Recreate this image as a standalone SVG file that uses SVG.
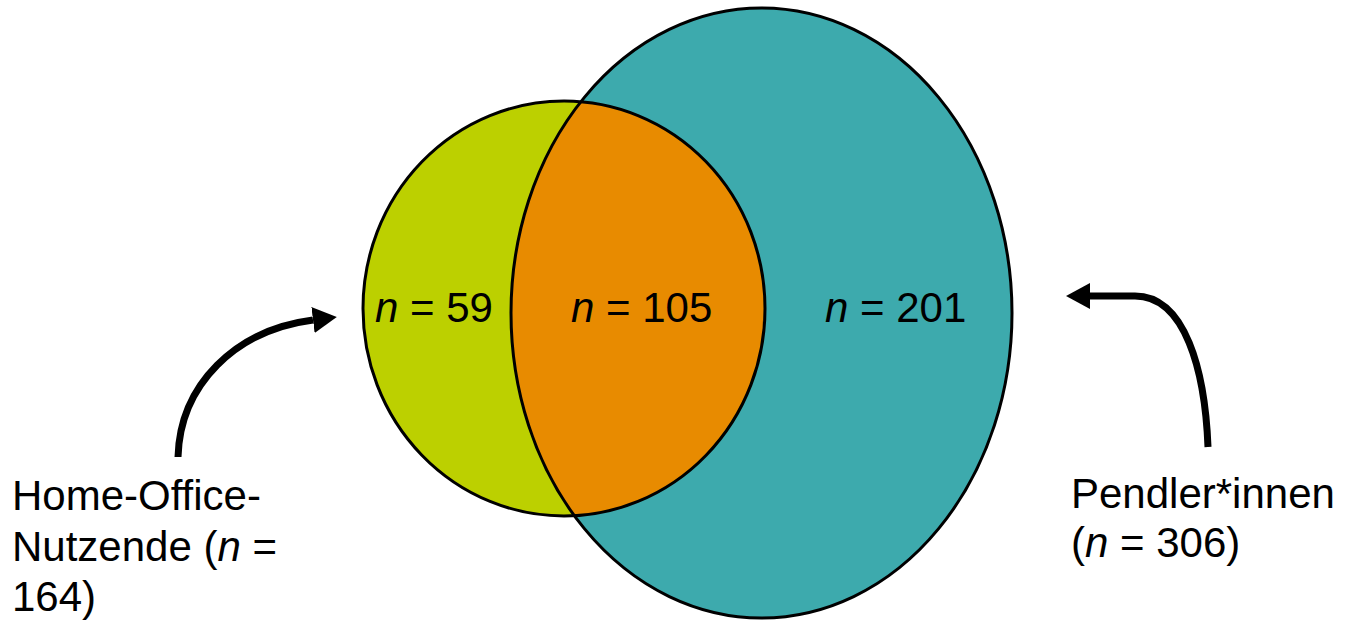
<svg xmlns="http://www.w3.org/2000/svg" width="1347" height="620" viewBox="0 0 1347 620">
  <style>
    .lbl { font-family: "Liberation Sans", Arial, sans-serif; font-size: 42px; fill: #000; }
    .it { font-style: italic; }
    .outline { fill: none; stroke: #000; stroke-width: 3; }
    .conn { fill: none; stroke: #000; stroke-width: 7; }
  </style>
  <defs>
    <marker id="head" markerUnits="userSpaceOnUse" markerWidth="26" markerHeight="27" refX="0" refY="13" orient="auto">
      <path d="M0,0 L24,13 L0,26 Z" fill="#000"/>
    </marker>
    <clipPath id="tealClip">
      <ellipse cx="761.5" cy="313" rx="250.5" ry="305"/>
    </clipPath>
  </defs>
  <rect width="1347" height="620" fill="#fff"/>

  <g id="pendler">
    <ellipse cx="761.5" cy="313" rx="250.5" ry="305" fill="#3DAAAD"/>
  </g>
  <g id="home-office">
    <ellipse cx="564" cy="308.5" rx="201" ry="207.5" fill="#BCD000"/>
  </g>
  <g id="overlap">
    <ellipse cx="564" cy="308.5" rx="201" ry="207.5" fill="#E88B00" clip-path="url(#tealClip)"/>
  </g>
  <g id="outlines">
    <ellipse class="outline" cx="761.5" cy="313" rx="250.5" ry="305"/>
    <ellipse class="outline" cx="564" cy="308.5" rx="201" ry="207.5"/>
  </g>

  <g id="counts">
    <text class="lbl" x="375" y="322"><tspan class="it">n</tspan> = 59</text>
    <text class="lbl" x="571" y="322"><tspan class="it">n</tspan> = 105</text>
    <text class="lbl" x="825" y="322"><tspan class="it">n</tspan> = 201</text>
  </g>

  <g id="label-home-office">
    <text class="lbl" x="12" y="510">Home-Office-</text>
    <text class="lbl" x="12" y="561">Nutzende (<tspan class="it">n</tspan> =</text>
    <text class="lbl" x="12" y="611">164)</text>
  </g>
  <g id="label-pendler">
    <text class="lbl" x="1071" y="508">Pendler*innen</text>
    <text class="lbl" x="1071" y="557">(<tspan class="it">n</tspan> = 306)</text>
  </g>

  <g id="connectors">
    <path class="conn" d="M178,457 C180,385 235,330 313,320" marker-end="url(#head)"/>
    <path class="conn" d="M1208,447 C1205,370 1185,296 1135,296 L1090,296" marker-end="url(#head)"/>
  </g>
</svg>
